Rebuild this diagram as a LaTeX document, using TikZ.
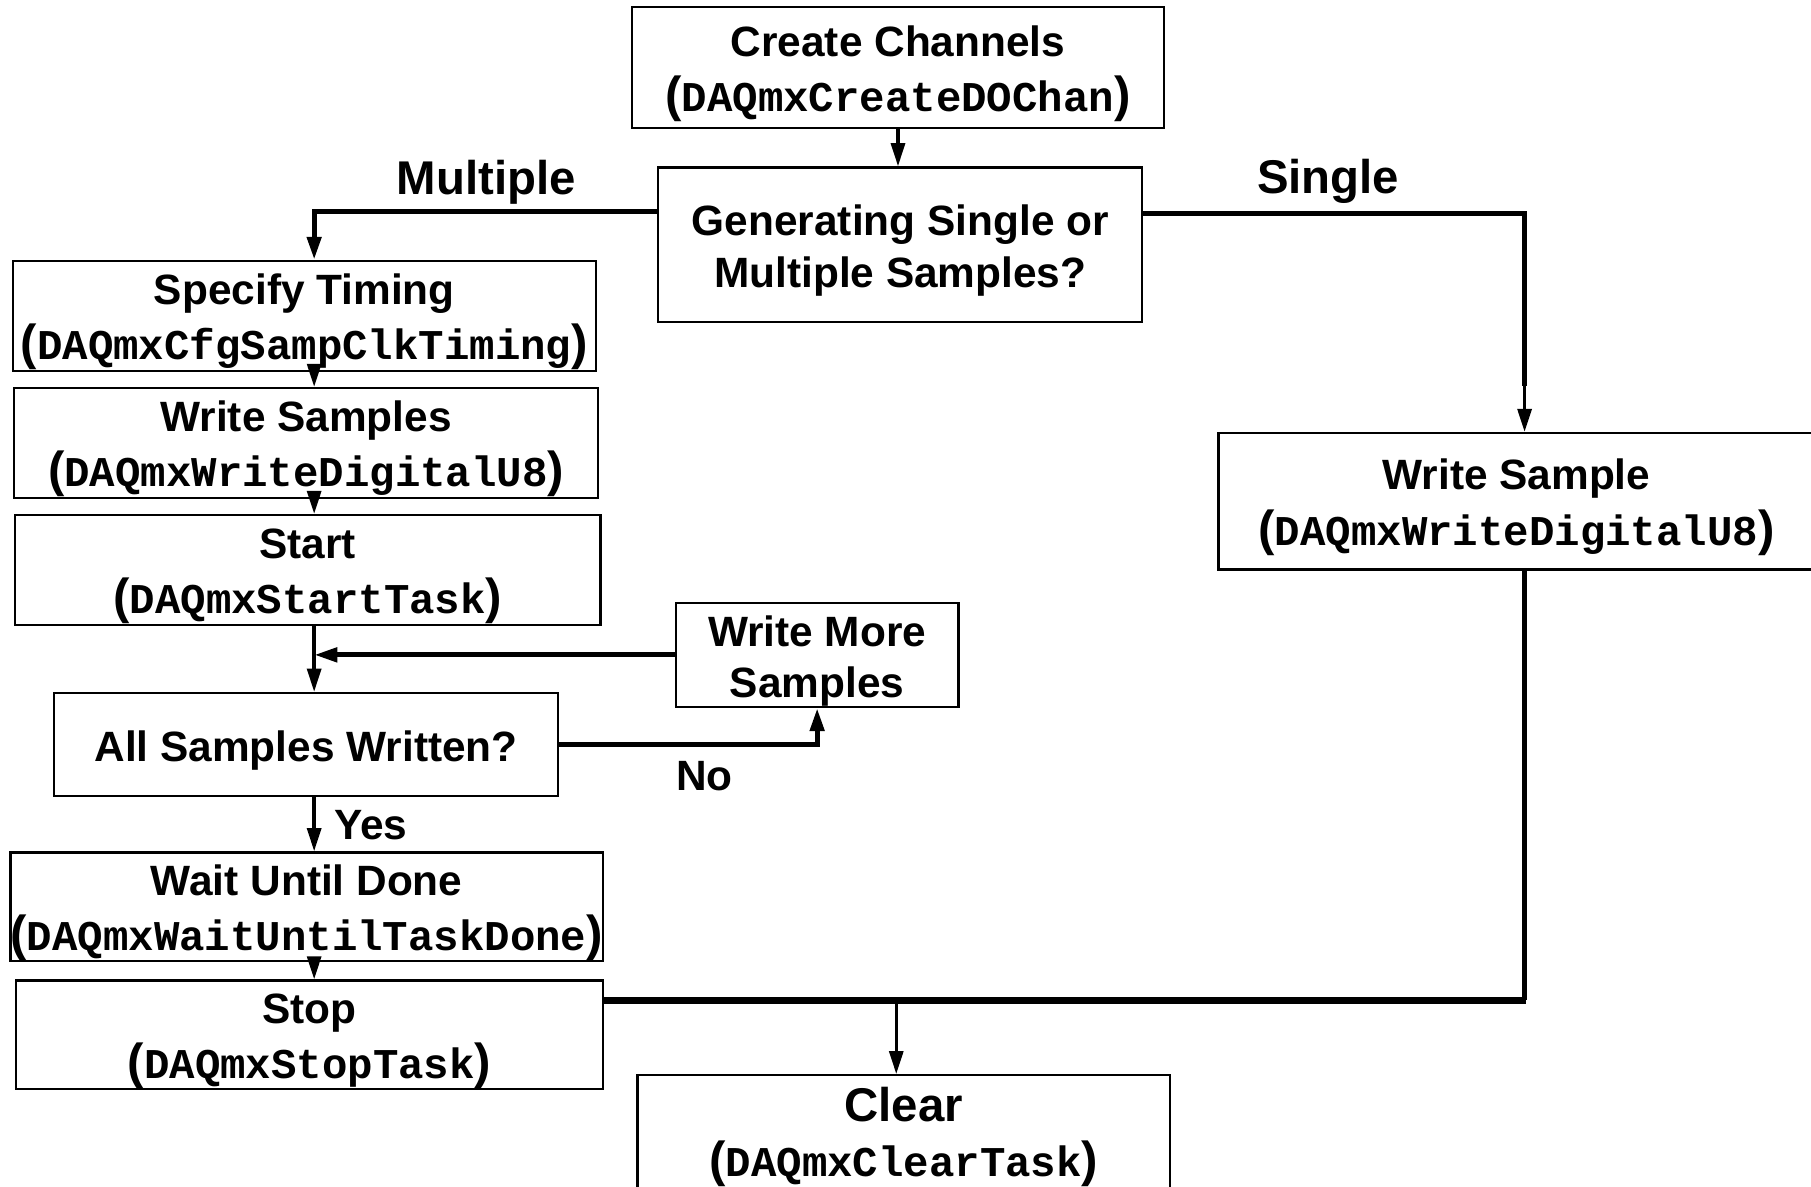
\documentclass[tikz,border=0pt]{standalone}
\usepackage{fontspec}
\setmainfont{Liberation Sans}
\setmonofont{Liberation Mono}
\usetikzlibrary{arrows.meta,calc}

% function name in monospace, wrapped in slightly larger sans parentheses
\newcommand\callname[1]{{\fontsize{21.3}{24}\selectfont(}\texttt{#1}{\fontsize{21.3}{24}\selectfont)}}
% taller first line, pushes a box's text a little below its centre
\newcommand\lift{\rule{0pt}{18.5pt}}

\begin{document}
\begin{tikzpicture}[x=0.5pt,y=-0.5pt,
  box/.style={draw,line width=1pt,inner sep=0pt,align=center,
    font=\bfseries\fontsize{18.35}{24}\selectfont},
  lab/.style={inner sep=0pt,font=\bfseries\fontsize{18.35}{22}\selectfont},
  biglab/.style={inner sep=0pt,font=\bfseries\fontsize{20.5}{24}\selectfont},
  tip/.style={-{Triangle[length=10pt,width=6pt]}},
  flow/.style={line width=1.5pt},
  heavy/.style={line width=2.2pt},
  heavier/.style={line width=3pt}]

\useasboundingbox (0,0) rectangle (1568,1027);
\fill[white] (0,0) rectangle (1568,1027);
\clip (0,0) rectangle (1568,1027);

% ---------- boxes ----------
\node[box,minimum width=461*0.5pt,minimum height=105*0.5pt] (create) at (777.5,58.5)
  {\lift Create Channels\\\callname{DAQmxCreateDOChan}};
\node[box,minimum width=419*0.5pt,minimum height=134*0.5pt,
  font=\bfseries\fontsize{18.35}{22.5}\selectfont] (gen) at (779.5,212)
  {\lift Generating Single or\\Multiple Samples?};
\node[box,minimum width=505*0.5pt,minimum height=95*0.5pt] (spec) at (263.5,273.5)
  {\lift Specify Timing\\\callname{DAQmxCfgSampClkTiming}};
\node[box,minimum width=506*0.5pt,minimum height=95*0.5pt] (wsm) at (265,383.5)
  {\lift Write Samples\\\callname{DAQmxWriteDigitalU8}};
\node[box,minimum width=507*0.5pt,minimum height=95*0.5pt] (start) at (266.5,493.5)
  {\lift Start\\\callname{DAQmxStartTask}};
\node[box,minimum width=245*0.5pt,minimum height=90*0.5pt,
  font=\bfseries\fontsize{18.35}{22}\selectfont] (more) at (707.5,567)
  {\lift Write More\\ Samples};
\node[box,minimum width=436*0.5pt,minimum height=89*0.5pt] (all) at (265,644.5)
  {\lift All Samples Written?};
\node[box,minimum width=507*0.5pt,minimum height=92*0.5pt] (wait) at (265.5,785)
  {\lift Wait Until Done\\\callname{DAQmxWaitUntilTaskDone}};
\node[box,minimum width=508*0.5pt,minimum height=94*0.5pt] (stop) at (268,896)
  {\lift Stop\\\callname{DAQmxStopTask}};
\node[box,minimum width=530*0.5pt,minimum height=118*0.5pt] (wsamp) at (1320,434)
  {\lift\hspace*{-7pt}Write Sample\\\hspace*{-7pt}\callname{DAQmxWriteDigitalU8}};
\node[box,minimum width=461*0.5pt,minimum height=107*0.5pt] (clear) at (782.5,984.5)
  {{\fontsize{20.5}{24}\selectfont Clear}\\\callname{DAQmxClearTask}};

% ---------- branch labels ----------
\node[biglab] (lmult) at (421,158) {Multiple};
\node[biglab] (lsing) at (1150,157) {Single};
\node[lab] (lno) at (610,672) {No};
\node[lab] (lyes) at (321,714) {Yes};

% ---------- helper points ----------
\coordinate (spine) at (272,0);
\coordinate (mg) at (776,866);
\path (gen.west) ++(0,-29) coordinate (gw);
\path (gen.east) ++(0,-27) coordinate (ge);

% ---------- connectors ----------
\draw[flow,tip] (create.south) -- (create.south |- gen.north);
\draw[heavy,tip] (gw) -| (spec.north -| spine);
\draw[heavy] (ge) -| ($(wsamp.north)+(0,-40)$);
\draw[flow,tip] ($(wsamp.north)+(0,-42)$) -- (wsamp.north);

\draw[flow,tip] (spec.south -| spine) -- (wsm.north -| spine);
\draw[flow,tip] (wsm.south -| spine) -- (start.north -| spine);
\draw[flow,tip] (start.south -| spine) -- (all.north -| spine);
\draw[heavy,tip] (more.west) -- (more.west -| spine);
\draw[heavy,tip] (all.east) -| (more.south);
\draw[flow,tip] (all.south -| spine) -- (wait.north -| spine);
\draw[flow,tip] (wait.south -| spine) -- (stop.north -| spine);

\draw[heavy] (wsamp.south) -- (wsamp.south |- mg);
\draw[heavier] (stop.east |- mg) -- ($(wsamp.south |- mg)+(1.5,0)$);
\draw[flow,tip] (mg) -- (mg |- clear.north);
\end{tikzpicture}
\end{document}
